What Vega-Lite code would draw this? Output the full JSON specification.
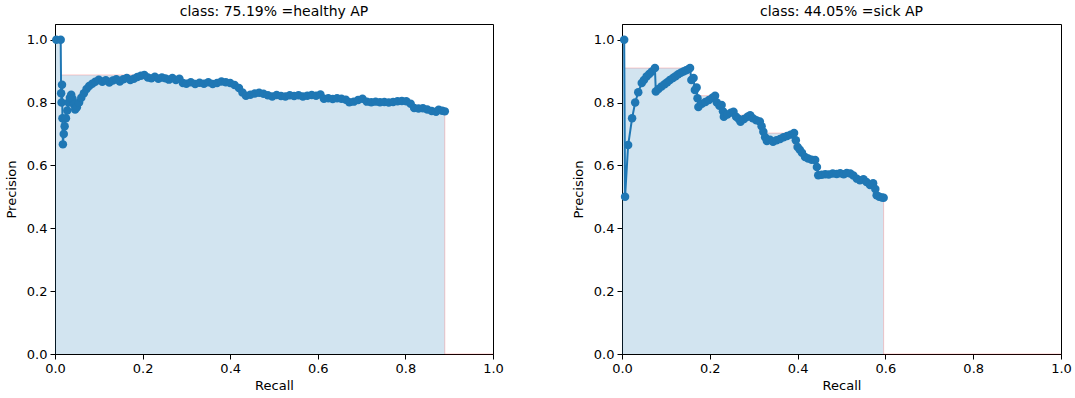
{
  "$schema": "https://vega.github.io/schema/vega-lite/v6.json",
  "padding": {"left": 4, "top": 4, "right": 0, "bottom": 5},
  "spacing": 67,
  "config": {
    "font": "DejaVu Sans",
    "view": {"stroke": "black", "strokeWidth": 1},
    "title": {"fontSize": 14, "fontWeight": "normal", "color": "black", "font": "DejaVu Sans", "offset": 5},
    "axis": {"grid": false, "labelFlush": false, "domainColor": "black", "tickColor": "black", "tickSize": 5, "labelFontSize": 13, "labelColor": "black", "titleFontSize": 13, "titleFontWeight": "normal", "titleColor": "black", "labelPadding": 3, "format": ".1f", "labelFont": "DejaVu Sans", "titleFont": "DejaVu Sans"}
  },
  "datasets": {
    "pr1": [
      {"r":0.003,"p":1.0},{"r":0.013,"p":1.0},{"r":0.014,"p":0.83},{"r":0.015,"p":0.8},{"r":0.016,"p":0.857},{"r":0.017,"p":0.75},{"r":0.018,"p":0.667},{"r":0.02,"p":0.7},{"r":0.022,"p":0.725},{"r":0.025,"p":0.75},{"r":0.028,"p":0.775},{"r":0.031,"p":0.8},{"r":0.034,"p":0.815},{"r":0.037,"p":0.825},{"r":0.04,"p":0.812},{"r":0.043,"p":0.795},{"r":0.046,"p":0.778},{"r":0.05,"p":0.785},{"r":0.055,"p":0.8},{"r":0.06,"p":0.815},{"r":0.066,"p":0.83},{"r":0.072,"p":0.843},{"r":0.078,"p":0.853},{"r":0.085,"p":0.86},{"r":0.092,"p":0.866},{"r":0.1,"p":0.873},{"r":0.108,"p":0.866},{"r":0.116,"p":0.871},{"r":0.124,"p":0.864},{"r":0.132,"p":0.87},{"r":0.14,"p":0.874},{"r":0.148,"p":0.867},{"r":0.156,"p":0.874},{"r":0.164,"p":0.878},{"r":0.172,"p":0.872},{"r":0.18,"p":0.876},{"r":0.188,"p":0.881},{"r":0.196,"p":0.885},{"r":0.204,"p":0.888},{"r":0.212,"p":0.88},{"r":0.22,"p":0.877},{"r":0.228,"p":0.882},{"r":0.236,"p":0.876},{"r":0.244,"p":0.88},{"r":0.252,"p":0.877},{"r":0.26,"p":0.873},{"r":0.268,"p":0.878},{"r":0.276,"p":0.872},{"r":0.284,"p":0.876},{"r":0.292,"p":0.862},{"r":0.3,"p":0.86},{"r":0.31,"p":0.865},{"r":0.32,"p":0.859},{"r":0.33,"p":0.863},{"r":0.34,"p":0.86},{"r":0.35,"p":0.865},{"r":0.36,"p":0.859},{"r":0.37,"p":0.862},{"r":0.38,"p":0.867},{"r":0.39,"p":0.865},{"r":0.4,"p":0.862},{"r":0.41,"p":0.856},{"r":0.42,"p":0.846},{"r":0.428,"p":0.832},{"r":0.436,"p":0.822},{"r":0.446,"p":0.825},{"r":0.456,"p":0.829},{"r":0.466,"p":0.831},{"r":0.476,"p":0.828},{"r":0.486,"p":0.823},{"r":0.496,"p":0.819},{"r":0.506,"p":0.824},{"r":0.516,"p":0.821},{"r":0.526,"p":0.819},{"r":0.536,"p":0.823},{"r":0.546,"p":0.821},{"r":0.556,"p":0.823},{"r":0.566,"p":0.819},{"r":0.576,"p":0.822},{"r":0.586,"p":0.824},{"r":0.596,"p":0.822},{"r":0.606,"p":0.826},{"r":0.614,"p":0.812},{"r":0.624,"p":0.814},{"r":0.634,"p":0.811},{"r":0.644,"p":0.814},{"r":0.654,"p":0.812},{"r":0.664,"p":0.809},{"r":0.672,"p":0.801},{"r":0.682,"p":0.803},{"r":0.692,"p":0.808},{"r":0.702,"p":0.812},{"r":0.712,"p":0.803},{"r":0.722,"p":0.801},{"r":0.732,"p":0.803},{"r":0.742,"p":0.801},{"r":0.752,"p":0.802},{"r":0.762,"p":0.8},{"r":0.772,"p":0.802},{"r":0.782,"p":0.804},{"r":0.792,"p":0.805},{"r":0.802,"p":0.804},{"r":0.812,"p":0.796},{"r":0.82,"p":0.783},{"r":0.83,"p":0.781},{"r":0.84,"p":0.782},{"r":0.85,"p":0.778},{"r":0.86,"p":0.773},{"r":0.87,"p":0.771},{"r":0.876,"p":0.777},{"r":0.884,"p":0.774},{"r":0.89,"p":0.772}
    ],
    "env1": [
      {"r":0,"pi":1.0},{"r":0.013,"pi":1.0},{"r":0.204,"pi":0.888},{"r":0.236,"pi":0.882},{"r":0.26,"pi":0.88},{"r":0.276,"pi":0.878},{"r":0.284,"pi":0.876},{"r":0.38,"pi":0.867},{"r":0.39,"pi":0.865},{"r":0.4,"pi":0.862},{"r":0.41,"pi":0.856},{"r":0.42,"pi":0.846},{"r":0.428,"pi":0.832},{"r":0.466,"pi":0.831},{"r":0.606,"pi":0.826},{"r":0.644,"pi":0.814},{"r":0.702,"pi":0.812},{"r":0.792,"pi":0.805},{"r":0.802,"pi":0.804},{"r":0.812,"pi":0.796},{"r":0.82,"pi":0.783},{"r":0.84,"pi":0.782},{"r":0.85,"pi":0.778},{"r":0.876,"pi":0.777},{"r":0.884,"pi":0.774},{"r":0.89,"pi":0.772},{"r":1.0,"pi":0}
    ],
    "pr2": [
      {"r":0.005,"p":1.0},{"r":0.007,"p":0.5},{"r":0.014,"p":0.665},{"r":0.023,"p":0.75},{"r":0.03,"p":0.8},{"r":0.037,"p":0.833},{"r":0.045,"p":0.862},{"r":0.05,"p":0.872},{"r":0.056,"p":0.883},{"r":0.062,"p":0.891},{"r":0.068,"p":0.899},{"r":0.075,"p":0.91},{"r":0.077,"p":0.835},{"r":0.083,"p":0.843},{"r":0.09,"p":0.851},{"r":0.097,"p":0.858},{"r":0.103,"p":0.865},{"r":0.109,"p":0.872},{"r":0.116,"p":0.878},{"r":0.122,"p":0.884},{"r":0.128,"p":0.89},{"r":0.134,"p":0.895},{"r":0.14,"p":0.899},{"r":0.146,"p":0.903},{"r":0.152,"p":0.907},{"r":0.155,"p":0.91},{"r":0.158,"p":0.872},{"r":0.163,"p":0.878},{"r":0.166,"p":0.84},{"r":0.17,"p":0.848},{"r":0.172,"p":0.814},{"r":0.174,"p":0.786},{"r":0.182,"p":0.796},{"r":0.19,"p":0.802},{"r":0.198,"p":0.808},{"r":0.206,"p":0.815},{"r":0.212,"p":0.822},{"r":0.216,"p":0.8},{"r":0.222,"p":0.79},{"r":0.227,"p":0.792},{"r":0.23,"p":0.772},{"r":0.232,"p":0.755},{"r":0.24,"p":0.762},{"r":0.248,"p":0.768},{"r":0.254,"p":0.771},{"r":0.26,"p":0.755},{"r":0.266,"p":0.748},{"r":0.27,"p":0.739},{"r":0.278,"p":0.748},{"r":0.286,"p":0.755},{"r":0.292,"p":0.76},{"r":0.298,"p":0.75},{"r":0.306,"p":0.744},{"r":0.314,"p":0.74},{"r":0.318,"p":0.725},{"r":0.322,"p":0.707},{"r":0.326,"p":0.69},{"r":0.33,"p":0.678},{"r":0.337,"p":0.682},{"r":0.344,"p":0.675},{"r":0.352,"p":0.68},{"r":0.36,"p":0.684},{"r":0.368,"p":0.69},{"r":0.376,"p":0.694},{"r":0.384,"p":0.698},{"r":0.392,"p":0.703},{"r":0.396,"p":0.68},{"r":0.4,"p":0.659},{"r":0.405,"p":0.65},{"r":0.41,"p":0.64},{"r":0.417,"p":0.627},{"r":0.424,"p":0.622},{"r":0.432,"p":0.618},{"r":0.44,"p":0.617},{"r":0.444,"p":0.595},{"r":0.447,"p":0.569},{"r":0.455,"p":0.57},{"r":0.463,"p":0.572},{"r":0.471,"p":0.571},{"r":0.48,"p":0.574},{"r":0.489,"p":0.573},{"r":0.497,"p":0.575},{"r":0.505,"p":0.572},{"r":0.512,"p":0.576},{"r":0.52,"p":0.574},{"r":0.527,"p":0.568},{"r":0.535,"p":0.558},{"r":0.542,"p":0.553},{"r":0.55,"p":0.556},{"r":0.557,"p":0.547},{"r":0.565,"p":0.538},{"r":0.572,"p":0.543},{"r":0.577,"p":0.525},{"r":0.58,"p":0.505},{"r":0.586,"p":0.5},{"r":0.592,"p":0.498},{"r":0.596,"p":0.497}
    ],
    "env2": [
      {"r":0,"pi":1.0},{"r":0.005,"pi":1.0},{"r":0.155,"pi":0.91},{"r":0.163,"pi":0.878},{"r":0.17,"pi":0.848},{"r":0.212,"pi":0.822},{"r":0.227,"pi":0.792},{"r":0.254,"pi":0.771},{"r":0.292,"pi":0.76},{"r":0.314,"pi":0.74},{"r":0.322,"pi":0.707},{"r":0.392,"pi":0.703},{"r":0.4,"pi":0.659},{"r":0.405,"pi":0.65},{"r":0.41,"pi":0.64},{"r":0.417,"pi":0.627},{"r":0.424,"pi":0.622},{"r":0.432,"pi":0.618},{"r":0.44,"pi":0.617},{"r":0.444,"pi":0.595},{"r":0.512,"pi":0.576},{"r":0.52,"pi":0.574},{"r":0.527,"pi":0.568},{"r":0.55,"pi":0.556},{"r":0.557,"pi":0.547},{"r":0.572,"pi":0.543},{"r":0.577,"pi":0.525},{"r":0.58,"pi":0.505},{"r":0.586,"pi":0.5},{"r":0.592,"pi":0.498},{"r":0.596,"pi":0.497},{"r":1.0,"pi":0}
    ]
  },
  "hconcat": [
    {
      "title": "class: 75.19% =healthy AP",
      "width": 438, "height": 330,
      "layer": [
        {"data": {"name": "env1"}, "mark": {"type": "area", "interpolate": "step-before", "color": "#1f77b4", "opacity": 0.2},
         "encoding": {"x": {"field": "r", "type": "quantitative", "scale": {"domain": [0, 1], "nice": false}, "axis": {"values": [0, 0.2, 0.4, 0.6, 0.8, 1.0], "title": "Recall"}},
                      "y": {"field": "pi", "type": "quantitative", "scale": {"domain": [0, 1.05], "nice": false}, "axis": {"values": [0, 0.2, 0.4, 0.6, 0.8, 1.0], "title": "Precision", "titlePadding": 8}}}},
        {"data": {"name": "env1"}, "mark": {"type": "line", "interpolate": "step-before", "color": "red", "opacity": 0.2, "strokeWidth": 1},
         "encoding": {"x": {"field": "r", "type": "quantitative"}, "y": {"field": "pi", "type": "quantitative"}}},
        {"data": {"name": "pr1"}, "mark": {"type": "line", "color": "#1f77b4", "strokeWidth": 2, "point": {"filled": true, "size": 72, "color": "#1f77b4", "opacity": 1}},
         "encoding": {"x": {"field": "r", "type": "quantitative"}, "y": {"field": "p", "type": "quantitative"}, "order": {"field": "r"}}}
      ]
    },
    {
      "title": "class: 44.05% =sick AP",
      "width": 439, "height": 330,
      "layer": [
        {"data": {"name": "env2"}, "mark": {"type": "area", "interpolate": "step-before", "color": "#1f77b4", "opacity": 0.2},
         "encoding": {"x": {"field": "r", "type": "quantitative", "scale": {"domain": [0, 1], "nice": false}, "axis": {"values": [0, 0.2, 0.4, 0.6, 0.8, 1.0], "title": "Recall"}},
                      "y": {"field": "pi", "type": "quantitative", "scale": {"domain": [0, 1.05], "nice": false}, "axis": {"values": [0, 0.2, 0.4, 0.6, 0.8, 1.0], "title": "Precision", "titlePadding": 8}}}},
        {"data": {"name": "env2"}, "mark": {"type": "line", "interpolate": "step-before", "color": "red", "opacity": 0.2, "strokeWidth": 1},
         "encoding": {"x": {"field": "r", "type": "quantitative"}, "y": {"field": "pi", "type": "quantitative"}}},
        {"data": {"name": "pr2"}, "mark": {"type": "line", "color": "#1f77b4", "strokeWidth": 2, "point": {"filled": true, "size": 72, "color": "#1f77b4", "opacity": 1}},
         "encoding": {"x": {"field": "r", "type": "quantitative"}, "y": {"field": "p", "type": "quantitative"}, "order": {"field": "r"}}}
      ]
    }
  ]
}
